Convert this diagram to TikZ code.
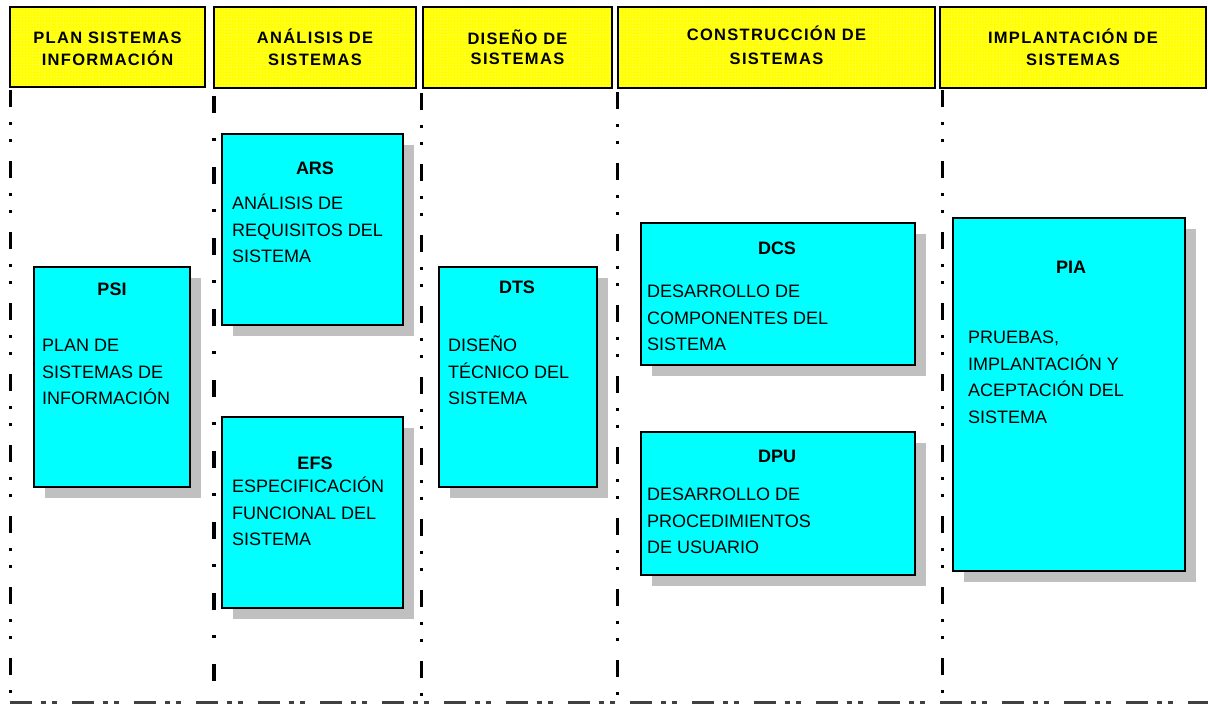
\documentclass[tikz,border=0pt]{standalone}
\usepackage{fontspec}
\setmainfont{Liberation Sans}
\newfontfamily\hdrfont[LetterSpace=8]{Liberation Sans}
\usetikzlibrary{patterns,shadows}
\definecolor{hdryellow}{RGB}{255,255,0}
\definecolor{boxcyan}{RGB}{0,255,255}
\definecolor{shadowgrey}{RGB}{192,192,192}
\begin{document}
\begin{tikzpicture}[x=1pt,y=-1pt,
  hdr/.style={draw=black, line width=2pt, preaction={fill=hdryellow}, pattern=dots, pattern color=white,
    align=center, inner sep=0pt, font=\hdrfont\bfseries\fontsize{16.5}{22}\selectfont},
  procbox/.style={draw=black, line width=1.5pt, fill=boxcyan, inner sep=0pt,
    drop shadow={shadow xshift=11pt, shadow yshift=-11pt, fill=shadowgrey, opacity=1, draw=none}},
  ttl/.style={font=\bfseries\fontsize{18}{22}\selectfont, inner sep=0pt, anchor=center},
  txt/.style={font=\fontsize{18}{22}\selectfont, inner sep=0pt, anchor=base west},
  ddline/.style={line width=3pt, dash pattern=on 17pt off 15pt on 3pt off 14pt on 3pt off 19pt},
  dline/.style={line width=4pt, dash pattern=on 17pt off 25pt on 3pt off 26pt},
  bline/.style={line width=3pt, black!75, dash pattern=on 22pt off 9pt on 5pt off 6pt on 5pt off 15pt}
]
\useasboundingbox (0,0) rectangle (1208,704);
\fill[white] (0,0) rectangle (1208,704);

% column separators
\coordinate (v1t) at (10,90);  \coordinate (v1b) at (10,704);
\coordinate (v2t) at (214,96); \coordinate (v2b) at (214,704);
\coordinate (v3t) at (421,93); \coordinate (v3b) at (421,704);
\coordinate (v4t) at (617,92); \coordinate (v4b) at (617,704);
\coordinate (v5t) at (942,90); \coordinate (v5b) at (942,704);
\draw[ddline] (v1t) -- (v1b);
\draw[dline]  (v2t) -- (v2b);
\draw[ddline] (v3t) -- (v3b);
\draw[ddline] (v4t) -- (v4b);
\draw[ddline] (v5t) -- (v5b);
\coordinate (bl) at (10,702); \coordinate (br) at (1208,702);
\draw[bline] (bl) -- (br);

% headers
\node[hdr, minimum width=195pt, minimum height=80pt] (h1) at (107.5,47) {};
\node[hdr, minimum width=202pt, minimum height=81pt] (h2) at (315,47.5) {};
\node[hdr, minimum width=189pt, minimum height=81pt] (h3) at (517.5,47.5) {};
\node[hdr, minimum width=317pt, minimum height=81pt] (h4) at (776.5,47.5) {};
\node[hdr, minimum width=266pt, minimum height=81pt] (h5) at (1073,47.5) {};
\tikzset{htxt/.style={font=\hdrfont\bfseries\fontsize{16.5}{22}\selectfont, inner sep=0pt, anchor=base}}
\node[htxt] (h1-1) at (107.5,43) {PLAN SISTEMAS};
\node[htxt] (h1-2) at (107.5,65) {INFORMACIÓN};
\node[htxt] (h2-1) at (315,43) {ANÁLISIS DE};
\node[htxt] (h2-2) at (315,65) {SISTEMAS};
\node[htxt] (h3-1) at (517.5,44) {DISEÑO DE};
\node[htxt] (h3-2) at (517.5,64) {SISTEMAS};
\node[htxt] (h4-1) at (776.5,40) {CONSTRUCCIÓN DE};
\node[htxt] (h4-2) at (776.5,64) {SISTEMAS};
\node[htxt] (h5-1) at (1073,43) {IMPLANTACIÓN DE};
\node[htxt] (h5-2) at (1073,65) {SISTEMAS};

% process boxes
\node[procbox, minimum width=156pt, minimum height=220pt] (psi) at (112,377) {};
\node[procbox, minimum width=181pt, minimum height=191pt] (ars) at (312.5,229.5) {};
\node[procbox, minimum width=181pt, minimum height=191pt] (efs) at (312.5,512.5) {};
\node[procbox, minimum width=158pt, minimum height=220pt] (dts) at (518,377) {};
\node[procbox, minimum width=274pt, minimum height=142pt] (dcs) at (778,294) {};
\node[procbox, minimum width=274pt, minimum height=143pt] (dpu) at (778,503.5) {};
\node[procbox, minimum width=232pt, minimum height=353pt] (pia) at (1069,394.5) {};

% PSI
\node[ttl] (psi-t) at (112,289) {PSI};
\node[txt] (psi-1) at (42,351.5) {PLAN DE};
\node[txt] (psi-2) at (42,378) {SISTEMAS DE};
\node[txt] (psi-3) at (42,404.5) {INFORMACIÓN};
% ARS
\node[ttl] (ars-t) at (315,168) {ARS};
\node[txt] (ars-1) at (232,209.5) {ANÁLISIS DE};
\node[txt] (ars-2) at (232,236) {REQUISITOS DEL};
\node[txt] (ars-3) at (232,262) {SISTEMA};
% EFS
\node[ttl] (efs-t) at (315,463) {EFS};
\node[txt] (efs-1) at (232,492.5) {ESPECIFICACIÓN};
\node[txt] (efs-2) at (232,519) {FUNCIONAL DEL};
\node[txt] (efs-3) at (232,545.5) {SISTEMA};
% DTS
\node[ttl] (dts-t) at (517,287) {DTS};
\node[txt] (dts-1) at (448,351.5) {DISEÑO};
\node[txt] (dts-2) at (448,378) {TÉCNICO DEL};
\node[txt] (dts-3) at (448,404.5) {SISTEMA};
% DCS
\node[ttl] (dcs-t) at (777,248) {DCS};
\node[txt] (dcs-1) at (647,297.5) {DESARROLLO DE};
\node[txt] (dcs-2) at (647,324) {COMPONENTES DEL};
\node[txt] (dcs-3) at (647,350.5) {SISTEMA};
% DPU
\node[ttl] (dpu-t) at (777,456) {DPU};
\node[txt] (dpu-1) at (647,500.5) {DESARROLLO DE};
\node[txt] (dpu-2) at (647,527) {PROCEDIMIENTOS};
\node[txt] (dpu-3) at (647,553.5) {DE USUARIO};
% PIA
\node[ttl] (pia-t) at (1071,267) {PIA};
\node[txt] (pia-1) at (968,343.5) {PRUEBAS,};
\node[txt] (pia-2) at (968,370) {IMPLANTACIÓN Y};
\node[txt] (pia-3) at (968,396.5) {ACEPTACIÓN DEL};
\node[txt] (pia-4) at (968,423) {SISTEMA};
\end{tikzpicture}
\end{document}
